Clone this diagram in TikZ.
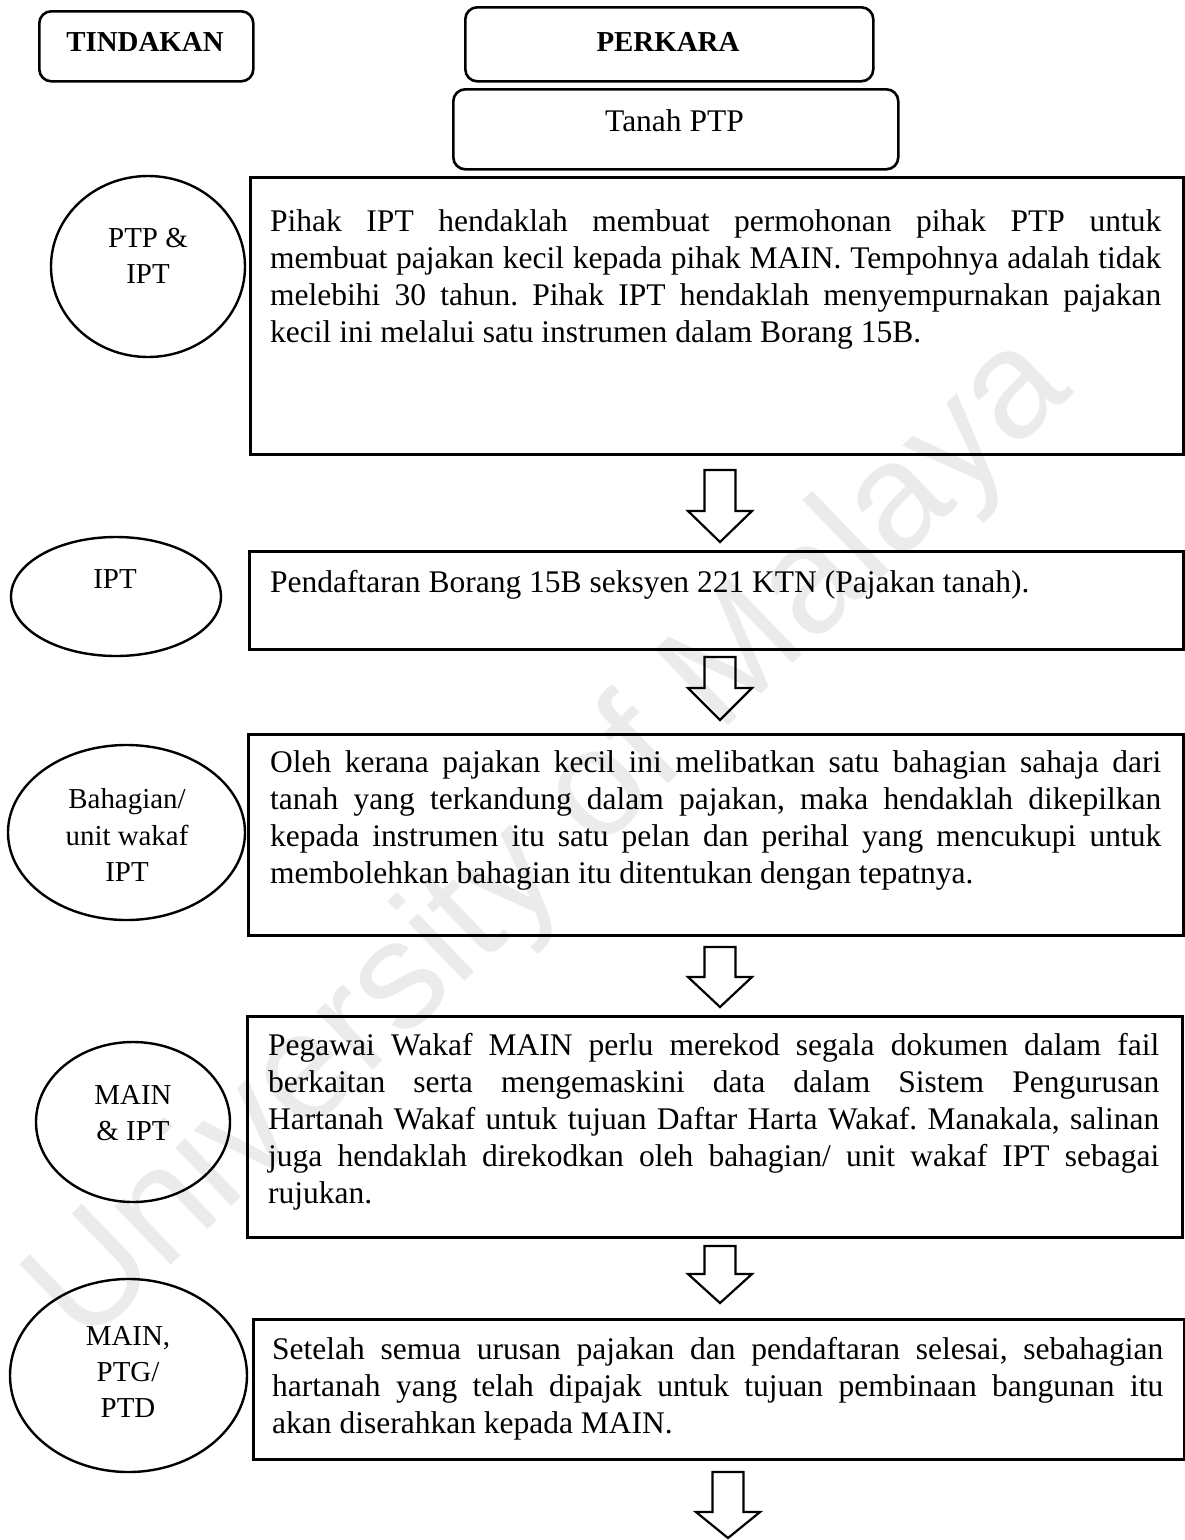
\documentclass[tikz,border=0pt]{standalone}
\usepackage{fontspec}
\setmainfont{Liberation Serif}
\newfontfamily\wmfont{Liberation Sans}
\usetikzlibrary{shapes.geometric}
\setlength{\parindent}{0pt}
\hyphenpenalty=10000
\exhyphenpenalty=10000
\tolerance=9999
\frenchspacing
\newcommand\blockarrow[4]{%
  \draw[arrowline] (#1-15.5,#2) -- (#1+15.5,#2) -- (#1+15.5,#3) -- (#1+32,#3)
    -- (#1,#4) -- (#1-32,#3) -- (#1-15.5,#3) -- cycle;}
\begin{document}
\begin{tikzpicture}[x=1pt,y=-1pt,
  hdrbox/.style={draw, line width=2.6pt, rounded corners=12pt, inner sep=0pt, anchor=north west},
  flowbox/.style={draw, line width=2.8pt, inner sep=0pt, anchor=north west},
  actor/.style={draw, ellipse, line width=2.4pt, inner sep=0pt},
  arrowline/.style={draw, line width=2.2pt, line join=miter},
  para/.style={inner sep=0pt, anchor=north west, text width=891pt, align=justify,
    font=\fontsize{31.5}{37}\selectfont},
  lbl/.style={inner sep=0pt, anchor=base, font=\fontsize{28.9}{36.5}\selectfont},
  hdrtext/.style={inner sep=0pt, anchor=base, font=\fontsize{28.9}{36.5}\selectfont\bfseries},
  subtext/.style={inner sep=0pt, anchor=base, font=\fontsize{31.5}{37}\selectfont},
  wm/.style={inner sep=0pt, rotate=44, text=black!8, font=\wmfont\fontsize{153}{153}\selectfont}
]
\useasboundingbox (0,0) rectangle (1185,1540);

% watermark
\node[wm] (wm) at (552,842) {University of Malaya};

% header boxes
\node[hdrbox, minimum width=214pt, minimum height=70pt] (hT) at (38,10) {};
\node[hdrtext] (hTt) at (145,51) {TINDAKAN};
\node[hdrbox, minimum width=408pt, minimum height=74pt] (hP) at (464,6) {};
\node[hdrtext] (hPt) at (668,51) {PERKARA};
\node[hdrbox, minimum width=445pt, minimum height=80pt] (hS) at (452,88) {};
\node[subtext] (hSt) at (674.5,131) {Tanah PTP};

% step boxes
\node[flowbox, minimum width=933pt, minimum height=277pt] (b1) at (249,176) {};
\node[flowbox, minimum width=934pt, minimum height=98pt] (b2) at (248,550) {};
\node[flowbox, minimum width=935pt, minimum height=201pt] (b3) at (247,733) {};
\node[flowbox, minimum width=935pt, minimum height=221pt] (b4) at (246,1015) {};
\node[flowbox, minimum width=931pt, minimum height=140pt] (b5) at (252,1318) {};

\node[para] (b1t) at (270,209) {Pihak IPT hendaklah membuat permohonan pihak PTP untuk\linebreak
membuat pajakan kecil kepada pihak MAIN. Tempohnya adalah tidak\linebreak
melebihi 30 tahun. Pihak IPT hendaklah menyempurnakan pajakan\linebreak
kecil ini melalui satu instrumen dalam Borang 15B.};

\node[para] (b2t) at (270,570) {Pendaftaran Borang 15B seksyen 221 KTN (Pajakan tanah).};

\node[para] (b3t) at (270,750) {Oleh kerana pajakan kecil ini melibatkan satu bahagian sahaja dari\linebreak
tanah yang terkandung dalam pajakan, maka hendaklah dikepilkan\linebreak
kepada instrumen itu satu pelan dan perihal yang mencukupi untuk\linebreak
membolehkan bahagian itu ditentukan dengan tepatnya.};

\node[para] (b4t) at (268,1033) {Pegawai Wakaf MAIN perlu merekod segala dokumen dalam fail\linebreak
berkaitan serta mengemaskini data dalam Sistem Pengurusan\linebreak
Hartanah Wakaf untuk tujuan Daftar Harta Wakaf. Manakala, salinan\linebreak
juga hendaklah direkodkan oleh bahagian/ unit wakaf IPT sebagai\linebreak
rujukan.};

\node[para] (b5t) at (272,1337) {Setelah semua urusan pajakan dan pendaftaran selesai, sebahagian\linebreak
hartanah yang telah dipajak untuk tujuan pembinaan bangunan itu\linebreak
akan diserahkan kepada MAIN.};

% actors
\node[actor, minimum width=194pt, minimum height=181pt] (e1) at (148,266.5) {};
\node[lbl] (e1a) at (148,247) {PTP \&};
\node[lbl] (e1b) at (148,283) {IPT};

\node[actor, minimum width=210pt, minimum height=119pt] (e2) at (116,596.5) {};
\node[lbl] (e2a) at (115,588) {IPT};

\node[actor, minimum width=237pt, minimum height=175pt] (e3) at (126.5,832.5) {};
\node[lbl] (e3a) at (127,808) {Bahagian/};
\node[lbl] (e3b) at (127,845) {unit wakaf};
\node[lbl] (e3c) at (127,881) {IPT};

\node[actor, minimum width=194pt, minimum height=160pt] (e4) at (133,1122) {};
\node[lbl] (e4a) at (133,1104) {MAIN};
\node[lbl] (e4b) at (133,1140) {\& IPT};

\node[actor, minimum width=237pt, minimum height=193pt] (e5) at (128.5,1375.5) {};
\node[lbl] (e5a) at (128,1345) {MAIN,};
\node[lbl] (e5b) at (128,1381) {PTG/};
\node[lbl] (e5c) at (128,1417) {PTD};

% block arrows
\blockarrow{720}{470}{511}{542}
\blockarrow{720}{657}{688}{720}
\blockarrow{720}{947}{977}{1007}
\blockarrow{720}{1246}{1274}{1303}
\blockarrow{728}{1472}{1512}{1538}
\end{tikzpicture}
\end{document}
